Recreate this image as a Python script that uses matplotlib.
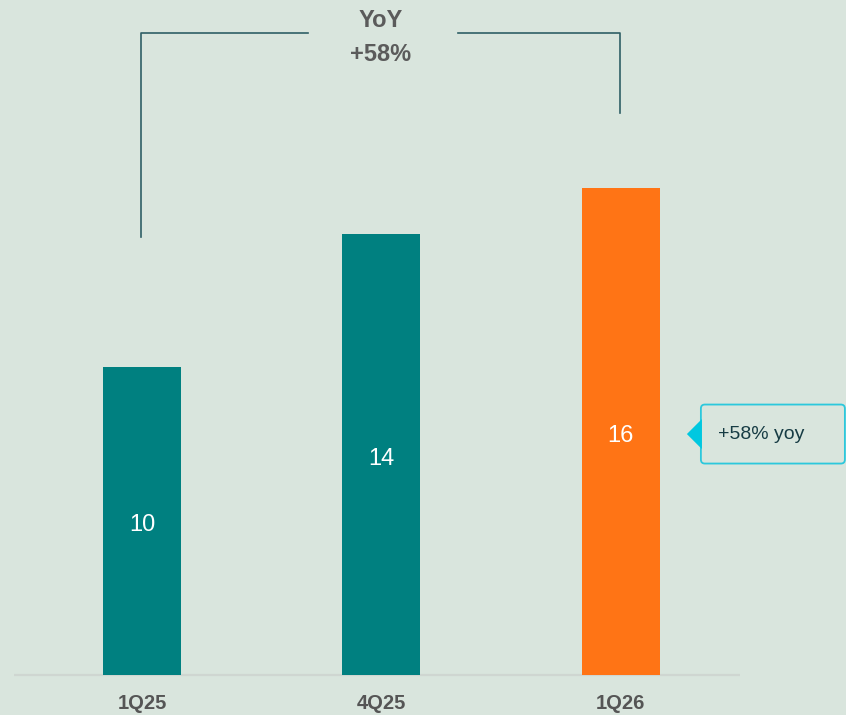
import numpy as np
import matplotlib
matplotlib.use("Agg")
import matplotlib.pyplot as plt
from matplotlib.patches import FancyBboxPatch, Polygon

quarters = ["1Q25", "4Q25", "1Q26"]
values = [10.1, 14.45, 15.96]
bar_colors = ["#008080", "#008080", "#ff7415"]
yoy_pct = 58

bg = "#d9e5dd"
plt.rcParams["font.family"] = ["Liberation Sans", "DejaVu Sans"]

fig = plt.figure(figsize=(8.46, 7.15), dpi=100, facecolor=bg)
ax = fig.add_axes([0, 0, 1, 1])
ax.set_facecolor(bg)

x = np.arange(len(quarters))
ax.bar(x, values, width=0.326, color=bar_colors, zorder=3)
ax.set_xlim(-0.593, 2.940)
ax.set_ylim(-1.311, 22.13)
ax.axis("off")

# px per data unit, for shapes that need fixed pixel sizes
fig.canvas.draw()
px_x = ax.transData.transform((1, 0))[0] - ax.transData.transform((0, 0))[0]
px_y = ax.transData.transform((0, 1))[1] - ax.transData.transform((0, 0))[1]

# baseline
ax.plot([-0.535, 2.497], [0, 0], color="#cfd6d1", lw=1.6, zorder=2, solid_capstyle="butt")

# value labels in the middle of each bar
for xi, v in zip(x, values):
    ax.text(xi, v / 2 - 0.13, f"{v:.0f}", ha="center", va="center", color="white", fontsize=17)

# category labels
for xi, q in zip(x, quarters):
    ax.text(xi, -0.95, q, ha="center", va="center", color="#555555",
            fontsize=14.5, fontweight="bold")

# YoY bracket between first and last quarter
top = 21.05
line_c = "#2f5f66"
x0, x1 = x[0] - 0.004, x[-1] - 0.004
ax.plot([x0, x0, x0 + 0.696], [values[0] + 4.26, top, top], color=line_c, lw=1.2)
ax.plot([x1 - 0.676, x1, x1], [top, top, values[-1] + 2.47], color=line_c, lw=1.2)
xm = (x0 + x1) / 2
ax.text(xm, top + 0.4, "YoY", ha="center", va="center", color="#5b5b5b",
        fontsize=17, fontweight="bold")
ax.text(xm, top - 0.72, f"+{yoy_pct}%", ha="center", va="center", color="#5b5b5b",
        fontsize=17, fontweight="bold")

# callout next to the last bar
cy = values[-1] / 2 - 0.08
bx0 = 2.334
bw = 144 / px_x
bh = 59 / px_y
box = FancyBboxPatch((bx0, cy - bh / 2), bw, bh,
                     boxstyle=f"round,pad=0,rounding_size={4 / px_x}",
                     mutation_aspect=px_x / px_y,
                     fc=bg, ec="#2cc8dc", lw=1.3, zorder=4)
ax.add_patch(box)
tri = Polygon([[bx0 - 14 / px_x, cy], [bx0 + 1 / px_x, cy + 15 / px_y],
               [bx0 + 1 / px_x, cy - 15 / px_y]], closed=True,
              fc="#00c8e0", ec="none", zorder=5)
ax.add_patch(tri)
ax.text(bx0 + 17 / px_x, cy - 0.03, f"+{yoy_pct}% yoy", ha="left", va="center",
        color="#173c44", fontsize=14, zorder=6)

fig.savefig("out.png", dpi=100, facecolor=bg)
